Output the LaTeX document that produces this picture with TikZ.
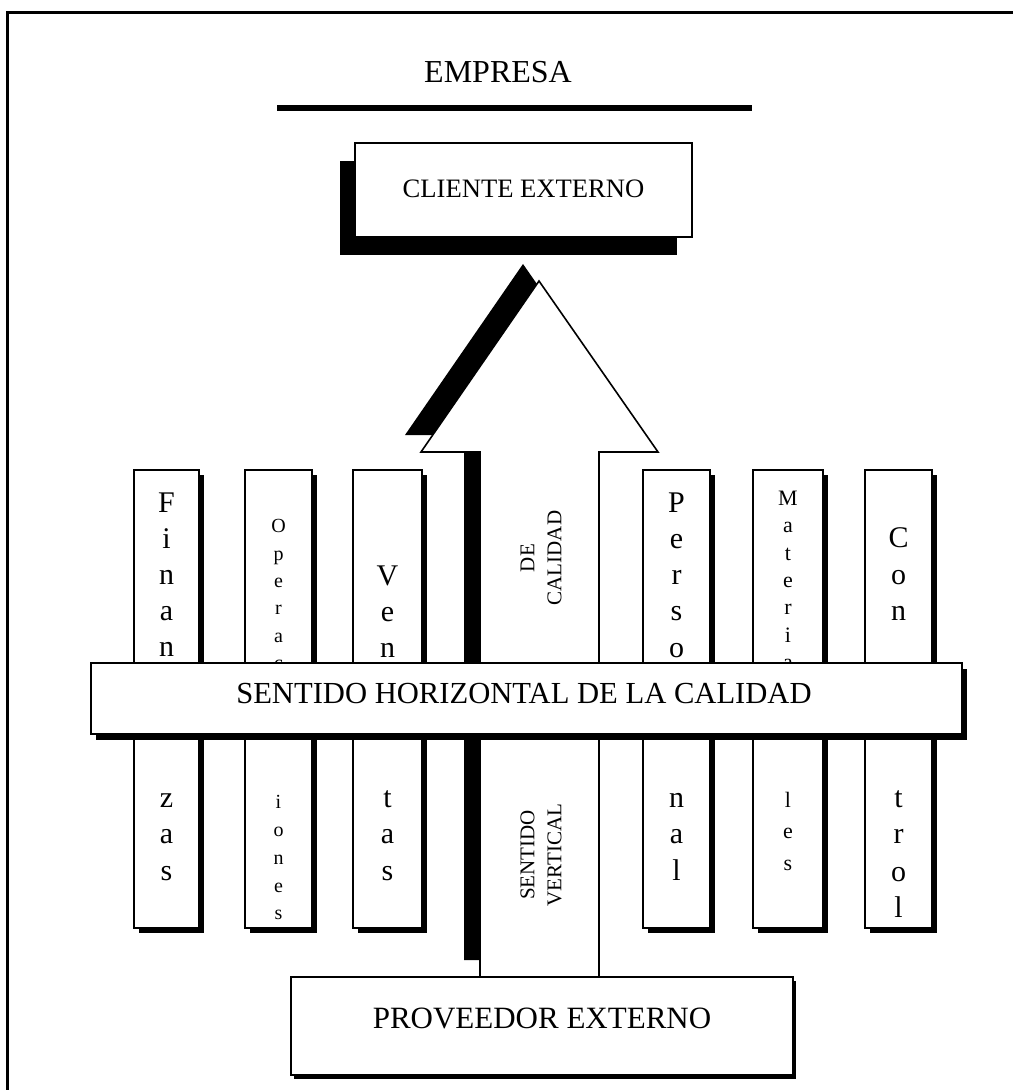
\documentclass[tikz,border=0pt]{standalone}
\usepackage{fontspec}
\setmainfont{Liberation Serif}
\newcommand\fs[1]{\fontsize{#1}{#1}\selectfont}
\begin{document}
\begin{tikzpicture}[x=0.5pt,y=-0.5pt,
  panel/.style={draw=black, line width=1.2pt, fill=white, inner sep=0pt},
  drop/.style={fill=black},
  bigletter/.style={font=\fs{15}, inner sep=0pt, anchor=base},
  smallletter/.style={font=\fs{10}, inner sep=0pt, anchor=base},
  midletter/.style={font=\fs{11}, inner sep=0pt, anchor=base},
  caption/.style={inner sep=0pt, anchor=base},
  arrowtext/.style={font=\fontsize{10.5}{13.5}\selectfont, rotate=90, align=center, inner sep=0pt}]

\useasboundingbox (0,0) rectangle (1013,1090);

% page frame
\draw[line width=1.5pt] (7,1090) -- (7,13) -- (1013,13);

% title and rule
\node[caption, font=\fs{16}] (empresa) at (498,83) {EMPRESA};
\coordinate (ruleL) at (277,108.5);
\coordinate (ruleR) at (752,108.5);
\draw[line width=3pt] (ruleL) -- (ruleR);

% external client, shadow to the lower left
\fill[drop] (340,161) rectangle (677,255);
\node[panel, minimum width=168.5pt, minimum height=47pt] (cliente) at (523.5,190) {};
\node[caption, font=\fs{13.3}] (clienteTxt) at (523.5,198) {CLIENTE EXTERNO};

% vertical arrow with its shadow to the upper left
\fill[black] (464,960) -- (464,435) -- (405,435) -- (523,264) -- (642,435) -- (583,435) -- (583,960) -- cycle;
\draw[fill=white, line width=0.8pt] (480,977) -- (480,452) -- (421,452) -- (539,281) -- (658,452) -- (599,452) -- (599,977) -- cycle;
\node[arrowtext] (deCal) at (541,558) {DE\\CALIDAD};
\node[arrowtext] (sentVert) at (541,855) {SENTIDO\\VERTICAL};

% department columns
\foreach \nm/\l/\r in {fin/134/199, ope/245/312, ven/353/422, per/643/710, mat/753/823, con/865/932}{
  \pgfmathsetmacro\cx{(\l+\r)/2}
  \pgfmathsetmacro\w{(\r-\l)/2}
  \fill[drop] (\l+5,475) rectangle (\r+5,933);
  \node[panel, minimum width=\w pt, minimum height=229pt] (\nm) at (\cx,699) {};
}

\foreach \ch/\y [count=\i] in {F/512,i/548,n/584,a/620,n/656,z/807,a/843,s/880}
  \node[bigletter] (fin-\i) at (166.5,\y) {\ch};
\foreach \ch/\y [count=\i] in {O/532,p/560,e/587,r/614,a/642,c/669,i/808,o/836,n/864,e/892,s/919}
  \node[smallletter] (ope-\i) at (278.5,\y) {\ch};
\foreach \ch/\y [count=\i] in {V/585,e/621,n/657,t/807,a/843,s/880}
  \node[bigletter] (ven-\i) at (387.5,\y) {\ch};
\foreach \ch/\y [count=\i] in {P/512,e/548,r/584,s/620,o/657,n/807,a/843,l/880}
  \node[bigletter] (per-\i) at (676.5,\y) {\ch};
\foreach \ch/\y [count=\i] in {M/505,a/532,t/560,e/587,r/614,i/642,a/669,l/807,e/838,s/870}
  \node[midletter] (mat-\i) at (788,\y) {\ch};
\foreach \ch/\y [count=\i] in {C/547,o/584,n/620,t/807,r/843,o/881,l/917}
  \node[bigletter] (con-\i) at (898.5,\y) {\ch};

% horizontal band across the columns
\fill[drop] (96,669) rectangle (967,740);
\node[panel, minimum width=435.5pt, minimum height=35.5pt] (hbar) at (526.5,698.5) {};
\node[caption, font=\fs{15.3}] (hbarTxt) at (524,703) {SENTIDO HORIZONTAL DE LA CALIDAD};

% external supplier
\fill[drop] (294,981) rectangle (796,1079);
\node[panel, minimum width=251pt, minimum height=49pt] (proveedor) at (542,1026) {};
\node[caption, font=\fs{15.5}] (provTxt) at (542,1028) {PROVEEDOR EXTERNO};
\end{tikzpicture}
\end{document}
